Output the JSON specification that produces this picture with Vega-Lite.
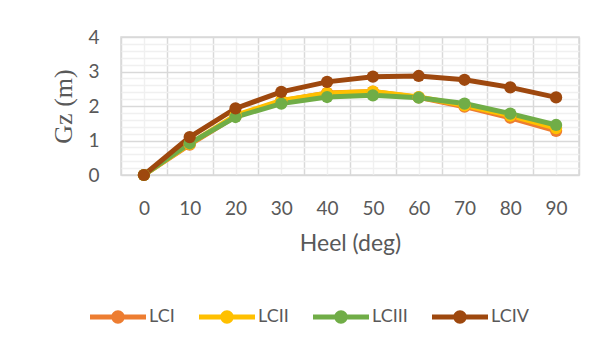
{
  "$schema": "https://vega.github.io/schema/vega-lite/v6.json",
  "autosize": {"type": "none"},
  "width": 458,
  "height": 138,
  "padding": {"left": 121, "top": 37, "right": 30, "bottom": 176},
  "background": "white",
  "config": {
    "view": {"stroke": "#d9d9d9", "strokeWidth": 1.5},
    "font": "Lato"
  },
  "data": {
    "values": [
      {"heel": 0, "gz": 0, "lc": "LCI"},
      {"heel": 10, "gz": 0.88, "lc": "LCI"},
      {"heel": 20, "gz": 1.70, "lc": "LCI"},
      {"heel": 30, "gz": 2.15, "lc": "LCI"},
      {"heel": 40, "gz": 2.38, "lc": "LCI"},
      {"heel": 50, "gz": 2.42, "lc": "LCI"},
      {"heel": 60, "gz": 2.25, "lc": "LCI"},
      {"heel": 70, "gz": 1.98, "lc": "LCI"},
      {"heel": 80, "gz": 1.66, "lc": "LCI"},
      {"heel": 90, "gz": 1.28, "lc": "LCI"},
      {"heel": 0, "gz": 0, "lc": "LCII"},
      {"heel": 10, "gz": 0.90, "lc": "LCII"},
      {"heel": 20, "gz": 1.73, "lc": "LCII"},
      {"heel": 30, "gz": 2.16, "lc": "LCII"},
      {"heel": 40, "gz": 2.37, "lc": "LCII"},
      {"heel": 50, "gz": 2.42, "lc": "LCII"},
      {"heel": 60, "gz": 2.26, "lc": "LCII"},
      {"heel": 70, "gz": 2.02, "lc": "LCII"},
      {"heel": 80, "gz": 1.72, "lc": "LCII"},
      {"heel": 90, "gz": 1.36, "lc": "LCII"},
      {"heel": 0, "gz": 0, "lc": "LCIII"},
      {"heel": 10, "gz": 0.92, "lc": "LCIII"},
      {"heel": 20, "gz": 1.68, "lc": "LCIII"},
      {"heel": 30, "gz": 2.07, "lc": "LCIII"},
      {"heel": 40, "gz": 2.26, "lc": "LCIII"},
      {"heel": 50, "gz": 2.31, "lc": "LCIII"},
      {"heel": 60, "gz": 2.24, "lc": "LCIII"},
      {"heel": 70, "gz": 2.07, "lc": "LCIII"},
      {"heel": 80, "gz": 1.78, "lc": "LCIII"},
      {"heel": 90, "gz": 1.45, "lc": "LCIII"},
      {"heel": 0, "gz": 0, "lc": "LCIV"},
      {"heel": 10, "gz": 1.10, "lc": "LCIV"},
      {"heel": 20, "gz": 1.93, "lc": "LCIV"},
      {"heel": 30, "gz": 2.41, "lc": "LCIV"},
      {"heel": 40, "gz": 2.70, "lc": "LCIV"},
      {"heel": 50, "gz": 2.85, "lc": "LCIV"},
      {"heel": 60, "gz": 2.87, "lc": "LCIV"},
      {"heel": 70, "gz": 2.76, "lc": "LCIV"},
      {"heel": 80, "gz": 2.54, "lc": "LCIV"},
      {"heel": 90, "gz": 2.25, "lc": "LCIV"}
    ]
  },
  "encoding": {
    "x": {
      "field": "heel",
      "type": "quantitative",
      "scale": {"domain": [-5, 95], "nice": false, "zero": false},
      "axis": {
        "title": "Heel (deg)",
        "values": [-5, 0, 5, 10, 15, 20, 25, 30, 35, 40, 45, 50, 55, 60, 65, 70, 75, 80, 85, 90, 95],
        "labelExpr": "datum.value % 10 === 0 ? format(datum.value, 'd') : ''",
        "labelOverlap": false,
        "labelFlush": false,
        "labelFont": "Lato",
        "labelFontSize": 19,
        "labelColor": "#595959",
        "labelPadding": 24,
        "ticks": false,
        "tickSize": 0,
        "domain": false,
        "grid": true,
        "gridColor": {"condition": {"test": "datum.value % 10 === 0", "value": "#f0f0f0"}, "value": "#d9d9d9"},
        "gridWidth": 1.5,
        "titleFont": "Lato",
        "titleFontSize": 23,
        "titleFontWeight": "normal",
        "titleColor": "#595959",
        "titlePadding": 14
      }
    },
    "y": {
      "field": "gz",
      "type": "quantitative",
      "scale": {"domain": [0, 4], "nice": false},
      "axis": {
        "title": "Gz (m)",
        "values": [0, 0.2, 0.4, 0.6, 0.8, 1, 1.2, 1.4, 1.6, 1.8, 2, 2.2, 2.4, 2.6, 2.8, 3, 3.2, 3.4, 3.6, 3.8, 4],
        "labelExpr": "datum.value % 1 === 0 ? format(datum.value, 'd') : ''",
        "labelOverlap": false,
        "labelFlush": false,
        "labelFont": "Lato",
        "labelFontSize": 19,
        "labelColor": "#595959",
        "labelPadding": 22,
        "ticks": false,
        "tickSize": 0,
        "domain": false,
        "grid": true,
        "gridColor": {"condition": {"test": "datum.value % 1 === 0", "value": "#d9d9d9"}, "value": "#f0f0f0"},
        "gridWidth": 1.5,
        "titleFont": "Liberation Serif",
        "titleFontSize": 26,
        "titleFontWeight": "normal",
        "titleColor": "#595959",
        "titlePadding": 11
      }
    },
    "color": {
      "field": "lc",
      "type": "nominal",
      "sort": ["LCI", "LCII", "LCIII", "LCIV"],
      "scale": {"domain": ["LCI", "LCII", "LCIII", "LCIV"], "range": ["#ED7D31", "#FFC000", "#70AD47", "#9E480E"]},
      "legend": {
        "title": null,
        "orient": "none",
        "direction": "horizontal",
        "legendX": -31,
        "legendY": 252,
        "padding": 0,
        "symbolType": "M-1,-0.09H1V0.09H-1Z M-0.24,0A0.24,0.24 0 1,1 0.24,0A0.24,0.24 0 1,1 -0.24,0Z",
        "symbolSize": 3136,
        "symbolStrokeWidth": 0,
        "labelFont": "Lato",
        "labelFontSize": 18,
        "labelColor": "#595959",
        "labelOffset": 3,
        "columnPadding": 24,
        "encode": {
          "symbols": {"update": {"fill": {"scale": "color", "field": "value"}, "stroke": {"value": "transparent"}, "opacity": {"value": 1}}}
        }
      }
    }
  },
  "layer": [
    {"mark": {"type": "line", "strokeWidth": 5}},
    {"mark": {"type": "point", "filled": true, "size": 150, "opacity": 1}}
  ]
}
